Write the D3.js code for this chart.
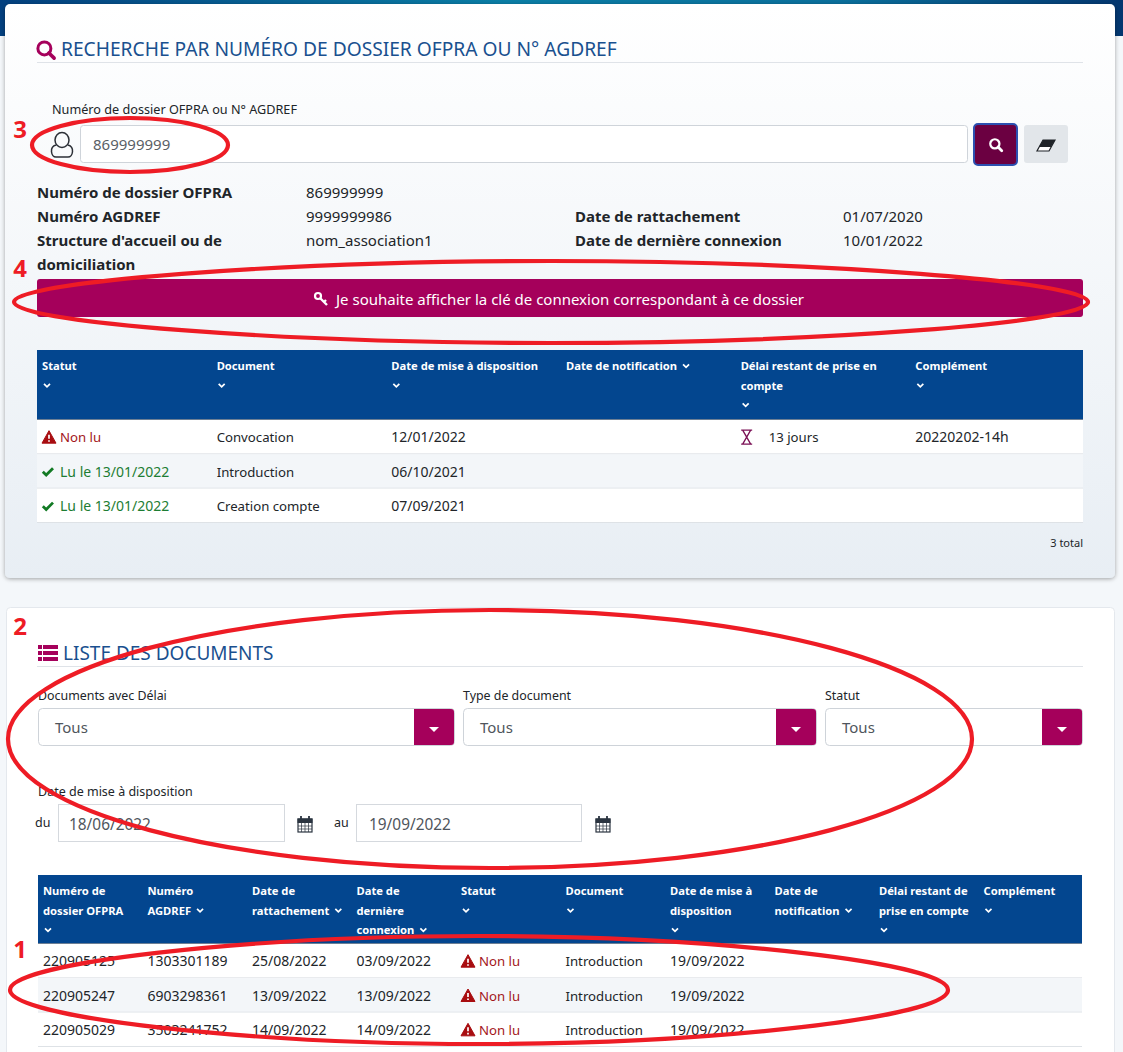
<!DOCTYPE html>
<html>
<head>
<meta charset="utf-8">
<script src="https://d3js.org/d3.v7.min.js"></script>
<style>
html, body { margin:0; padding:0; background:#f4f7fa; overflow:hidden; }
text { font-family:"Noto Sans", sans-serif; fill:#212529; }
</style>
</head>
<body>
<div class="chart"></div>
<script>
// page text and table values
const searchTitle = "RECHERCHE PAR NUMÉRO DE DOSSIER OFPRA OU N° AGDREF";
const searchLabel = "Numéro de dossier OFPRA ou N° AGDREF";
const searchValue = "869999999";
const infoLeftLabels = ["Numéro de dossier OFPRA", "Numéro AGDREF", "Structure d'accueil ou de", "domiciliation"];
const infoLeftValues = ["869999999", "9999999986", "nom_association1", ""];
const infoRightLabels = ["Date de rattachement", "Date de dernière connexion"];
const infoRightValues = ["01/07/2020", "10/01/2022"];
const keyButtonText = "Je souhaite afficher la clé de connexion correspondant à ce dossier";

const topHeaders = [
    ["Statut", ""], ["Document", ""], ["Date de mise à disposition", ""],
    ["Date de notification"], ["Délai restant de prise en", "compte", ""], ["Complément", ""]
];
const topStatut = ["Non lu", "Lu le 13/01/2022", "Lu le 13/01/2022"];
const topDocument = ["Convocation", "Introduction", "Creation compte"];
const topMiseDispo = ["12/01/2022", "06/10/2021", "07/09/2021"];
const topDelai = ["13 jours", "", ""];
const topComplement = ["20220202-14h", "", ""];
const topTotal = "3 total";

const listTitle = "LISTE DES DOCUMENTS";
const filterLabels = ["Documents avec Délai", "Type de document", "Statut"];
const filterValues = ["Tous", "Tous", "Tous"];
const dateLabel = "Date de mise à disposition";
const dateFrom = "18/06/2022";
const dateTo = "19/09/2022";

const listHeaders = [
    ["Numéro de", "dossier OFPRA", ""], ["Numéro", "AGDREF"], ["Date de", "rattachement"],
    ["Date de", "dernière", "connexion"], ["Statut", ""], ["Document", ""],
    ["Date de mise à", "disposition", ""], ["Date de", "notification"],
    ["Délai restant de", "prise en compte", ""], ["Complément", ""]
];
const listDossier = ["220905125", "220905247", "220905029"];
const listAgdref = ["1303301189", "6903298361", "3503241752"];
const listRattachement = ["25/08/2022", "13/09/2022", "14/09/2022"];
const listConnexion = ["03/09/2022", "13/09/2022", "14/09/2022"];
const listStatut = ["Non lu", "Non lu", "Non lu"];
const listDocument = ["Introduction", "Introduction", "Introduction"];
const listMiseDispo = ["19/09/2022", "19/09/2022", "19/09/2022"];

const width = 1123, height = 1052;
const magenta = "#a5005b", navy = "#03468f", titleBlue = "#19508f", red = "#ee1c25";

const svg = d3.select('.chart').append('svg')
    .attr('width', width)
    .attr('height', height)
    .style('display', 'block');

const defs = svg.append('defs');
const banner = defs.append('linearGradient').attr('id', 'banner');
banner.append('stop').attr('offset', '0%').attr('stop-color', '#03407f');
banner.append('stop').attr('offset', '45%').attr('stop-color', '#0a7ea6');
banner.append('stop').attr('offset', '75%').attr('stop-color', '#0a6f9c');
banner.append('stop').attr('offset', '100%').attr('stop-color', '#03366f');
const cardFill = defs.append('linearGradient').attr('id', 'cardFill').attr('x2', 0).attr('y2', 1);
cardFill.append('stop').attr('offset', '0%').attr('stop-color', '#ffffff');
cardFill.append('stop').attr('offset', '100%').attr('stop-color', '#e8eef4');
const shadow = defs.append('filter').attr('id', 'shadow').attr('x', '-2%').attr('y', '-2%').attr('width', '104%').attr('height', '104%');
shadow.append('feDropShadow').attr('dx', 0).attr('dy', 1).attr('stdDeviation', 2).attr('flood-color', '#000').attr('flood-opacity', 0.35);

function label(g, str, x, y, size, opts) {
    opts = opts || {};
    return g.append('text')
        .attr('x', x)
        .attr('y', y)
        .attr('font-size', size)
        .attr('font-weight', opts.weight || 400)
        .attr('text-anchor', opts.anchor || 'start')
        .style('fill', opts.fill || '#212529')
        .text(str);
}

// icons, all centred on the given point
function searchIcon(g, x, y, color, r, w) {
    const i = g.append('g').attr('transform', `translate(${x},${y})`);
    i.append('circle').attr('cx', -r * 0.25).attr('cy', -r * 0.25).attr('r', r).attr('fill', 'none').attr('stroke', color).attr('stroke-width', w);
    i.append('line').attr('x1', r * 0.45).attr('y1', r * 0.45).attr('x2', r * 1.25).attr('y2', r * 1.25).attr('stroke', color).attr('stroke-width', w + 0.6).attr('stroke-linecap', 'round');
}
function warnIcon(g, x, y) {
    const i = g.append('g').attr('transform', `translate(${x},${y})`);
    i.append('path').attr('d', 'M0,-6.5 L7,6 L-7,6 Z').attr('fill', '#a80d10').attr('stroke', '#a80d10').attr('stroke-width', 1).attr('stroke-linejoin', 'round');
    i.append('path').attr('d', 'M0,-2.5 V1.5 M0,3 V4.6').attr('stroke', '#fff').attr('stroke-width', 1.7);
}
function checkIcon(g, x, y) {
    g.append('path').attr('transform', `translate(${x},${y})`)
        .attr('d', 'M-5.2,0.3 L-1.8,3.6 L5,-3.2').attr('fill', 'none').attr('stroke', '#127a24').attr('stroke-width', 2.8);
}
function chevron(g, x, y) {
    g.append('path').attr('transform', `translate(${x},${y})`)
        .attr('d', 'M-3,-1.6 L0,1.4 L3,-1.6').attr('fill', 'none').attr('stroke', '#fff').attr('stroke-width', 1.7);
}
function calendarIcon(g, x, y) {
    const i = g.append('g').attr('transform', `translate(${x},${y})`).attr('stroke', '#2b3440').attr('fill', 'none');
    i.append('rect').attr('x', -7).attr('y', -5).attr('width', 14).attr('height', 13).attr('stroke-width', 1.2);
    i.append('rect').attr('x', -7).attr('y', -5).attr('width', 14).attr('height', 3.5).attr('fill', '#2b3440');
    i.append('path').attr('d', 'M-3.5,-1 V8 M0,-1 V8 M3.5,-1 V8 M-7,2 H7 M-7,5 H7').attr('stroke-width', 0.7);
    i.append('path').attr('d', 'M-4,-8 V-4 M4,-8 V-4').attr('stroke-width', 1.8);
}
function hourglass(g, x, y) {
    g.append('path').attr('transform', `translate(${x},${y})`)
        .attr('d', 'M-5.5,-7 H5.5 M-5.5,7 H5.5 M-4,-7 L4,7 M4,-7 L-4,7')
        .attr('fill', 'none').attr('stroke', '#7b1055').attr('stroke-width', 1.3);
}

// backgrounds
svg.append('rect').attr('width', width).attr('height', 36).attr('fill', 'url(#banner)');
svg.append('rect').attr('x', 5).attr('y', 4).attr('width', 1110).attr('height', 574).attr('rx', 5)
    .attr('fill', 'url(#cardFill)').attr('filter', 'url(#shadow)');
svg.append('rect').attr('x', 6.5).attr('y', 607.5).attr('width', 1108).attr('height', 460).attr('rx', 4)
    .attr('fill', '#fff').attr('stroke', '#e4e8ed');

const searchCard = svg.append('g');

// search card head
searchIcon(searchCard, 46, 50, magenta, 6.5, 3);
label(searchCard, searchTitle, 61, 56, 19.2, {fill: titleBlue});
searchCard.append('line').attr('x1', 37).attr('x2', 1083).attr('y1', 62.5).attr('y2', 62.5).attr('stroke', '#dfe3e8');

label(searchCard, searchLabel, 52, 114, 12.65);

// user icon
const userIcon = searchCard.append('g').attr('transform', 'translate(62,145)').attr('fill', 'none').attr('stroke', '#2b2f36').attr('stroke-width', 1.5);
userIcon.append('ellipse').attr('cy', -5).attr('rx', 7).attr('ry', 7.5);
userIcon.append('path').attr('d', 'M-6,0 C-13,2 -11,12 -6,12 H6 C11,12 13,2 6,0');

searchCard.append('rect').attr('x', 80.5).attr('y', 125.5).attr('width', 887).attr('height', 37).attr('rx', 3).attr('fill', '#fff').attr('stroke', '#cfd4da');
label(searchCard, searchValue, 93, 150, 15, {fill: '#5a5f66'});

searchCard.append('rect').attr('x', 974).attr('y', 124).attr('width', 43).attr('height', 41).attr('rx', 4).attr('fill', '#6b0041').attr('stroke', '#2c50b0').attr('stroke-width', 2);
searchIcon(searchCard, 996, 145, '#fff', 4.6, 2.2);
searchCard.append('rect').attr('x', 1024).attr('y', 125).attr('width', 44).attr('height', 38).attr('rx', 3).attr('fill', '#e2e6ea');
searchCard.append('path').attr('d', 'M1043,140 H1055 L1049,151 H1037 Z').attr('fill', '#fff').attr('stroke', '#1f2328').attr('stroke-width', 1.2);
searchCard.append('path').attr('d', 'M1043,140 H1055 L1051,147 H1039 Z').attr('fill', '#1f2328');

// dossier info
infoLeftLabels.forEach((d, i) => label(searchCard, d, 37, 198 + i * 24, 15, {weight: 700}));
infoLeftValues.forEach((d, i) => label(searchCard, d, 306, 198 + i * 24, 15));
infoRightLabels.forEach((d, i) => label(searchCard, d, 575, 222 + i * 24, 15, {weight: 700}));
infoRightValues.forEach((d, i) => label(searchCard, d, 843, 222 + i * 24, 15));

// key button
searchCard.append('rect').attr('x', 37).attr('y', 279).attr('width', 1046).attr('height', 38).attr('rx', 3).attr('fill', magenta);
const keyIcon = searchCard.append('g').attr('transform', 'translate(321,299)');
keyIcon.append('circle').attr('cx', -3).attr('cy', -3).attr('r', 3).attr('fill', 'none').attr('stroke', '#fff').attr('stroke-width', 2.2);
keyIcon.append('path').attr('d', 'M-1,-1 L6,6 M3,3 L5,1').attr('stroke', '#fff').attr('stroke-width', 2.4);
label(searchCard, keyButtonText, 336, 305, 15, {fill: '#fff'});

// digits run wider than letters in the reference font
function cellSize(str) {
    return /\d/.test(str) ? 14 : 13.2;
}

// builds a table from one array per column, statusKey and delayKey mark the columns with an icon
function drawTable(g, headers, columns, xRange, colEnd, headY, headH, rowRange, statusKey, delayKey) {
    const xScale = d3.scaleBand().domain(d3.range(headers.length)).range([xRange[0], colEnd]);
    const yScale = d3.scaleBand().domain(d3.range(columns[0].length)).range(rowRange);

    g.append('rect').attr('x', xRange[0]).attr('y', headY).attr('width', xRange[1] - xRange[0]).attr('height', headH).attr('fill', navy);
    g.append('line').attr('x1', xRange[0]).attr('x2', xRange[1]).attr('y1', headY + headH + 0.5).attr('y2', headY + headH + 0.5).attr('stroke', '#6d7f94');

    headers.forEach((lines, c) => {
        lines.forEach((line, l) => {
            const x = xScale(c) + 5, y = headY + 20 + l * 19.5;
            const t = label(g, line, x, y, 11.2, {weight: 700, fill: '#fff'});
            if (l === lines.length - 1) {
                const w = t.node().getComputedTextLength();
                if (line === "") chevron(g, x + 5, y - 4);
                else chevron(g, x + w + 9, y - 4);
            }
        });
    });

    yScale.domain().forEach(r => {
        g.append('rect').attr('x', xRange[0]).attr('y', yScale(r)).attr('width', xRange[1] - xRange[0]).attr('height', yScale.bandwidth())
            .attr('fill', r % 2 ? '#f3f6f9' : '#fff');
        g.append('line').attr('x1', xRange[0]).attr('x2', xRange[1]).attr('y1', yScale(r) + yScale.bandwidth() - 0.5).attr('y2', yScale(r) + yScale.bandwidth() - 0.5).attr('stroke', '#dee2e6');
        const cy = yScale(r) + yScale.bandwidth() / 2;
        columns.forEach((col, c) => {
            const v = col[r];
            if (!v) return;
            const x = xScale(c) + 5;
            if (c === statusKey) {
                const unread = v === "Non lu";
                if (unread) warnIcon(g, x + 7, cy);
                else checkIcon(g, x + 6, cy);
                label(g, v, x + 18, cy + 5, cellSize(v), {fill: unread ? '#a3161a' : '#1d7d33'});
            } else if (c === delayKey) {
                hourglass(g, x + 6, cy);
                label(g, v, x + 28, cy + 5, 13.2);
            } else {
                label(g, v, x, cy + 5, cellSize(v));
            }
        });
    });
}

drawTable(searchCard, topHeaders,
    [topStatut, topDocument, topMiseDispo, ["", "", ""], topDelai, topComplement],
    [37, 1083], 1085, 350, 69, [420, 523], 0, 4);
label(searchCard, topTotal, 1083, 547, 11, {anchor: 'end'});

// document list card
const listCard = svg.append('g');

const listIcon = listCard.append('g').attr('transform', 'translate(38,645)').attr('fill', magenta);
d3.range(3).forEach(i => {
    listIcon.append('rect').attr('y', i * 6).attr('width', 4).attr('height', 4);
    listIcon.append('rect').attr('x', 5).attr('y', i * 6).attr('width', 15).attr('height', 4);
});
label(listCard, listTitle, 63, 660, 19, {fill: titleBlue});
listCard.append('line').attr('x1', 37).attr('x2', 1083).attr('y1', 666.5).attr('y2', 666.5).attr('stroke', '#dfe3e8');

// select boxes
const filterX = d3.scaleOrdinal().domain(filterLabels).range([38, 463, 825]);
const filterW = d3.scaleOrdinal().domain(filterLabels).range([416, 353, 257]);
filterLabels.forEach((d, i) => {
    const x = filterX(d), w = filterW(d);
    label(listCard, d, x, 700, 12.4);
    listCard.append('rect').attr('x', x + 0.5).attr('y', 708.5).attr('width', w).attr('height', 37).attr('rx', 4).attr('fill', '#fff').attr('stroke', '#ced3d9');
    listCard.append('path').attr('d', `M${x + w - 40},709 H${x + w - 3} Q${x + w},709 ${x + w},712 V742 Q${x + w},745 ${x + w - 3},745 H${x + w - 40} Z`).attr('fill', magenta);
    listCard.append('path').attr('d', `M${x + w - 25},727 h10 l-5,5 Z`).attr('fill', '#fff');
    label(listCard, filterValues[i], x + 17, 733, 15, {fill: '#4f555c'});
});

// date range
label(listCard, dateLabel, 38, 796, 12.5);
label(listCard, "du", 35, 827, 12.5);
label(listCard, "au", 334, 827, 12.5);
listCard.append('rect').attr('x', 58.5).attr('y', 804.5).attr('width', 226).attr('height', 37).attr('fill', '#fff').attr('stroke', '#d5d9de');
listCard.append('rect').attr('x', 356.5).attr('y', 804.5).attr('width', 225).attr('height', 37).attr('fill', '#fff').attr('stroke', '#d5d9de');
label(listCard, dateFrom, 69, 830, 15.4, {fill: '#4f555c'});
label(listCard, dateTo, 369, 830, 15.4, {fill: '#4f555c'});
calendarIcon(listCard, 305, 824);
calendarIcon(listCard, 603, 824);

drawTable(listCard, listHeaders,
    [listDossier, listAgdref, listRattachement, listConnexion, listStatut, listDocument, listMiseDispo, ["", "", ""], ["", "", ""], ["", "", ""]],
    [38, 1082], 1083, 875, 68, [944, 1047], 4, -1);

// hand drawn red annotations
function oval(cx, cy, rx, ry, k) {
    const p = d3.path();
    const hx = rx * k, hy = ry * k;
    p.moveTo(cx - rx, cy);
    p.bezierCurveTo(cx - rx, cy - hy, cx - hx, cy - ry, cx, cy - ry);
    p.bezierCurveTo(cx + hx, cy - ry, cx + rx, cy - hy, cx + rx, cy);
    p.bezierCurveTo(cx + rx, cy + hy, cx + hx, cy + ry, cx, cy + ry);
    p.bezierCurveTo(cx - hx, cy + ry, cx - rx, cy + hy, cx - rx, cy);
    return p.toString();
}
const notes = svg.append('g').attr('fill', 'none').attr('stroke', red).attr('stroke-width', 4.2);
notes.append('path').attr('d', oval(130, 145, 98, 27, 0.55));
notes.append('path').attr('d', oval(551, 302, 537, 41, 0.5));
notes.append('path').attr('d', oval(490, 739, 482, 129, 0.55));
notes.append('path').attr('d', oval(479, 990, 469, 54, 0.5));

const noteNumbers = ["3", "4", "2", "1"];
const noteY = d3.scaleOrdinal().domain(noteNumbers).range([138, 277, 635, 958]);
noteNumbers.forEach(d => label(svg, d, 20, noteY(d), 24, {weight: 700, fill: red, anchor: 'middle'}));
</script>
</body>
</html>
